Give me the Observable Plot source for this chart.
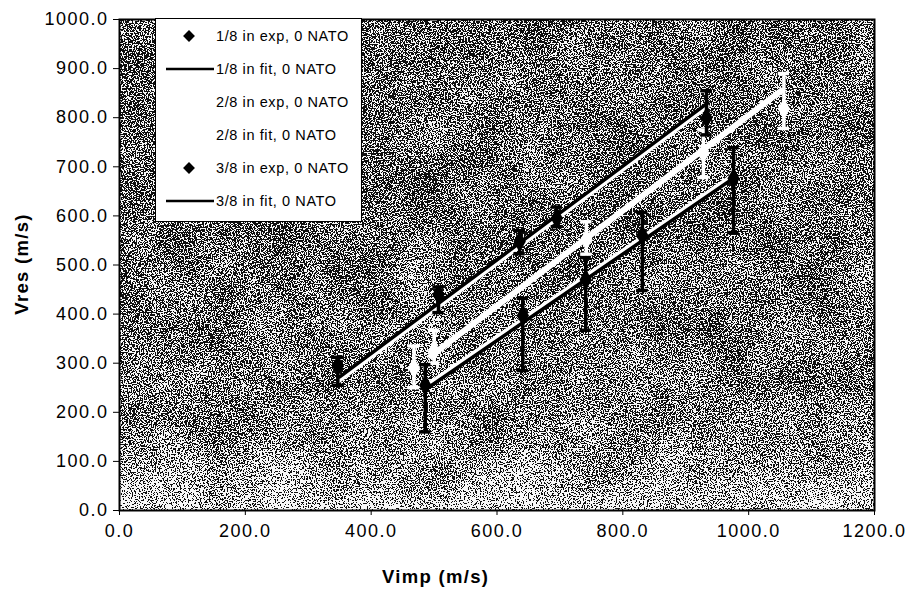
<!DOCTYPE html>
<html>
<head>
<meta charset="utf-8">
<script src="https://cdn.jsdelivr.net/npm/d3@7"></script>
<script src="https://cdn.jsdelivr.net/npm/@observablehq/plot@0.6"></script>
<style>
  body { margin: 0; background: #fff; font-family: "Liberation Sans", Arial, sans-serif; }
  #wrap { position: relative; width: 907px; height: 591px; }
  .axlab { position: absolute; font-weight: bold; font-size: 18.5px; letter-spacing: 1.3px; color: #000; white-space: nowrap; }
  #legend { position: absolute; left: 155px; top: 18px; width: 207px; height: 204px; background: #fff; border: 1px solid #000; box-sizing: border-box; }
</style>
</head>
<body>
<div id="wrap"></div>
<script>
// ---- data ----
const seriesNames = ["1/8 in exp, 0 NATO", "1/8 in fit, 0 NATO", "2/8 in exp, 0 NATO", "2/8 in fit, 0 NATO", "3/8 in exp, 0 NATO", "3/8 in fit, 0 NATO"];

// 1/8 in experimental points (black)
const exp18X  = [347, 507, 636, 695, 933];
const exp18Y  = [295, 440, 548, 595, 800];
const exp18Lo = [255, 403, 523, 578, 765];
const exp18Hi = [312, 455, 570, 618, 855];
// 2/8 in experimental points (white)
const exp28X  = [468, 500, 742, 928, 1056];
const exp28Y  = [290, 325, 552, 728, 818];
const exp28Lo = [250, 300, 522, 678, 778];
const exp28Hi = [335, 367, 588, 775, 890];
// 3/8 in experimental points (black)
const exp38X  = [486, 641, 741, 831, 976];
const exp38Y  = [255, 397, 470, 560, 676];
const exp38Lo = [160, 285, 367, 448, 566];
const exp38Hi = [297, 432, 515, 607, 739];
// fitted lines (end points)
const fit18X = [350, 935], fit18Y = [272, 830];
const fit28X = [495, 1052], fit28Y = [315, 855];
const fit38X = [487, 976], fit38Y = [247, 677];

const xTicks = [0, 200, 400, 600, 800, 1000, 1200];
const yTicks = [0, 100, 200, 300, 400, 500, 600, 700, 800, 900, 1000];

// ---- build tables ----
const mkExp = (name, X, Y, Lo, Hi) => X.map((x, i) => ({series: name, x, y: Y[i], lo: Lo[i], hi: Hi[i]}));
const e18 = mkExp(seriesNames[0], exp18X, exp18Y, exp18Lo, exp18Hi);
const e28 = mkExp(seriesNames[2], exp28X, exp28Y, exp28Lo, exp28Hi);
const e38 = mkExp(seriesNames[4], exp38X, exp38Y, exp38Lo, exp38Hi);
const mkFit = (name, X, Y) => X.map((x, i) => ({series: name, x, y: Y[i]}));
const f18 = mkFit(seriesNames[1], fit18X, fit18Y);
const f28 = mkFit(seriesNames[3], fit28X, fit28Y);
const f38 = mkFit(seriesNames[5], fit38X, fit38Y);

const capHalf = 9; // half width of error-bar caps in data units
const errMarks = (data, color) => [
  Plot.ruleX(data, {x: "x", y1: "lo", y2: "hi", stroke: color, strokeWidth: 3.5}),
  Plot.ruleY(data, {y: "lo", x1: d => d.x - capHalf, x2: d => d.x + capHalf, stroke: color, strokeWidth: 3.5}),
  Plot.ruleY(data, {y: "hi", x1: d => d.x - capHalf, x2: d => d.x + capHalf, stroke: color, strokeWidth: 3.5})
];

const chart = Plot.plot({
  width: 907,
  height: 591,
  marginLeft: 119,
  marginRight: 33,
  marginTop: 19,
  marginBottom: 81,
  style: {fontFamily: "Liberation Sans, Arial, sans-serif", fontSize: "16px", color: "#000", background: "#fff"},
  x: {domain: [0, 1200], ticks: xTicks, tickFormat: d3.format(".1f"), label: null, tickSize: 5, tickPadding: 9},
  y: {domain: [0, 1000], ticks: yTicks, tickFormat: d3.format(".1f"), label: null, tickSize: 6, tickPadding: 5},
  marks: [
    Plot.frame({fill: "#777", stroke: "none"}),
    // white halo strips next to black fit lines
    Plot.line(f18, {x: "x", y: "y", stroke: "#fff", strokeWidth: 4, dy: 3.5}),
    Plot.line(f38, {x: "x", y: "y", stroke: "#fff", strokeWidth: 4, dy: -3.5}),
    Plot.line(f18, {x: "x", y: "y", stroke: "#000", strokeWidth: 3.5}),
    Plot.line(f28, {x: "x", y: "y", stroke: "#fff", strokeWidth: 6}),
    Plot.line(f38, {x: "x", y: "y", stroke: "#000", strokeWidth: 3.5}),
    ...errMarks(e28, "#fff"),
    ...errMarks(e18, "#000"),
    ...errMarks(e38, "#000"),
    Plot.dot(e28, {x: "x", y: "y", symbol: "diamond", r: 6.5, fill: "#fff", stroke: "none"}),
    Plot.dot(e18, {x: "x", y: "y", symbol: "diamond", r: 6.5, fill: "#000", stroke: "none"}),
    Plot.dot(e38, {x: "x", y: "y", symbol: "diamond", r: 6.5, fill: "#000", stroke: "none"}),
    Plot.frame({stroke: "#000", strokeWidth: 2})
  ]
});

// grainy scanned (dithered) background: gradient + thresholded noise on the first frame
const svg = d3.select(chart.tagName.toLowerCase() === "svg" ? chart : chart.querySelector("svg"));
const defs = svg.insert("defs", ":first-child");
const grad = defs.append("linearGradient").attr("id", "bgGrad").attr("x1", 0).attr("y1", 0).attr("x2", 0).attr("y2", 1);
[[0, "#6c6c6c"], [0.5, "#6f6f6f"], [0.78, "#7b7b7b"], [0.92, "#959595"], [1, "#c2c2c2"]].forEach(([o, c]) =>
  grad.append("stop").attr("offset", o).attr("stop-color", c));
const f = defs.append("filter").attr("id", "grain").attr("x", 0).attr("y", 0).attr("width", "100%").attr("height", "100%")
  .attr("color-interpolation-filters", "sRGB");
f.append("feTurbulence").attr("type", "fractalNoise").attr("baseFrequency", 0.75).attr("numOctaves", 2).attr("seed", 5).attr("result", "noise");
f.append("feColorMatrix").attr("in", "noise").attr("type", "matrix")
  .attr("values", "1 0 0 0 0  1 0 0 0 0  1 0 0 0 0  0 0 0 0 1").attr("result", "gn");
f.append("feTurbulence").attr("type", "fractalNoise").attr("baseFrequency", 0.02).attr("numOctaves", 2).attr("seed", 11).attr("result", "lnoise");
f.append("feColorMatrix").attr("in", "lnoise").attr("type", "matrix")
  .attr("values", "0 1 0 0 0  0 1 0 0 0  0 1 0 0 0  0 0 0 0 1").attr("result", "ln");
f.append("feComposite").attr("in", "gn").attr("in2", "ln").attr("operator", "arithmetic")
  .attr("k1", 0).attr("k2", 0.88).attr("k3", 0.12).attr("k4", 0).attr("result", "cn");
f.append("feComposite").attr("in", "SourceGraphic").attr("in2", "cn").attr("operator", "arithmetic")
  .attr("k1", 0).attr("k2", 1).attr("k3", 3.6).attr("k4", -1.8).attr("result", "mix");
const ct = f.append("feComponentTransfer").attr("in", "mix").attr("result", "dith");
["feFuncR", "feFuncG", "feFuncB"].forEach(fn => ct.append(fn).attr("type", "discrete").attr("tableValues", "0.06 0.97"));
f.append("feComposite").attr("in", "dith").attr("in2", "SourceAlpha").attr("operator", "in");
const frames = svg.selectAll("[aria-label=frame]").nodes();
if (frames.length) {
  const r = frames[0].tagName === "rect" ? d3.select(frames[0]) : d3.select(frames[0]).select("rect");
  r.attr("fill", "url(#bgGrad)").attr("filter", "url(#grain)");
}
svg.selectAll("[aria-label='x-axis tick label'], [aria-label='y-axis tick label']")
  .attr("font-size", 18).attr("font-weight", "normal").style("letter-spacing", "1.5px");

const wrap = document.getElementById("wrap");
wrap.appendChild(chart);

// axis titles
const xl = document.createElement("div");
xl.className = "axlab"; xl.textContent = "Vimp (m/s)";
xl.style.left = "382px"; xl.style.top = "566px";
wrap.appendChild(xl);
const yl = document.createElement("div");
yl.className = "axlab"; yl.textContent = "Vres (m/s)";
yl.style.left = "22px"; yl.style.top = "264px";
yl.style.transform = "translate(-50%, -50%) rotate(-90deg)";
wrap.appendChild(yl);

// legend
const lg = document.createElement("div");
lg.id = "legend";
const rows = [
  {name: seriesNames[0], kind: "dot", color: "#000"},
  {name: seriesNames[1], kind: "line", color: "#000"},
  {name: seriesNames[2], kind: "dot", color: "#fff"},
  {name: seriesNames[3], kind: "line", color: "#fff"},
  {name: seriesNames[4], kind: "dot", color: "#000"},
  {name: seriesNames[5], kind: "line", color: "#000"}
];
const ls = d3.select(lg).append("svg").attr("width", 205).attr("height", 202);
rows.forEach((r, i) => {
  const g = ls.append("g").attr("transform", `translate(0, ${17 + i * 33})`);
  if (r.kind === "dot") {
    g.append("path").attr("d", d3.symbol(d3.symbolDiamond2, 90)()).attr("transform", "translate(33,0)").attr("fill", r.color);
  } else {
    g.append("line").attr("x1", 10).attr("x2", 58).attr("y1", 0).attr("y2", 0).attr("stroke", r.color).attr("stroke-width", 2.5);
  }
  g.append("text").attr("x", 60).attr("y", 0).attr("dy", "0.35em")
    .attr("font-family", "Liberation Sans, Arial, sans-serif").attr("font-size", 14.5).attr("letter-spacing", "0.6px")
    .attr("fill", "#000").text(r.name);
});
wrap.appendChild(lg);
</script>
</body>
</html>
